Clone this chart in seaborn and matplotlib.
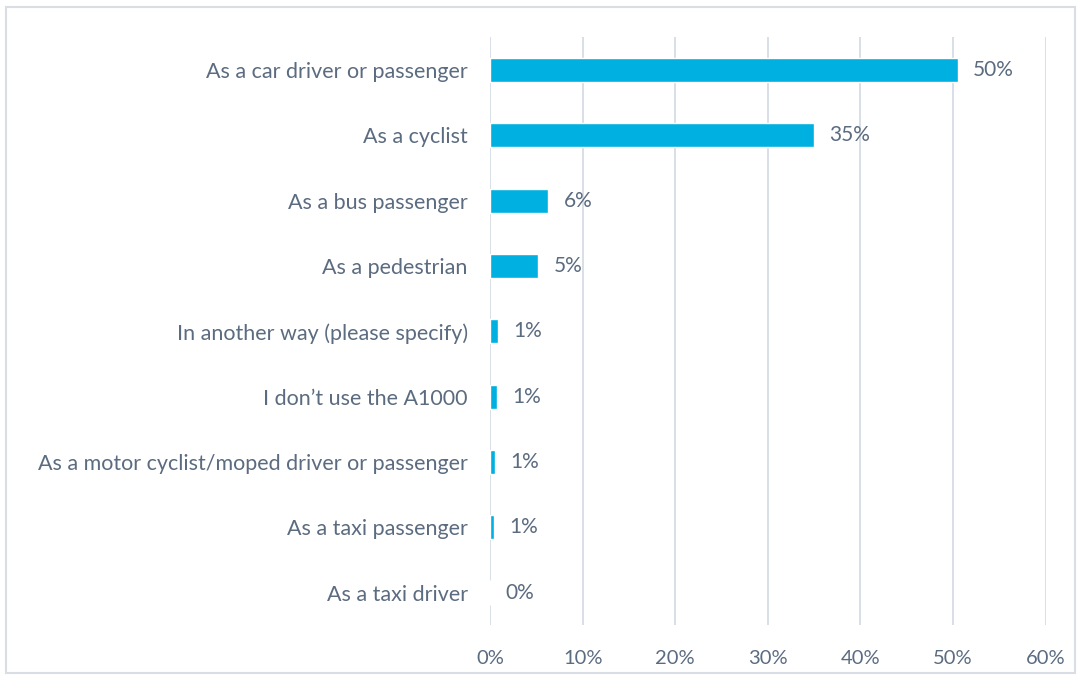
import matplotlib
matplotlib.use("Agg")
import matplotlib.pyplot as plt
import matplotlib.patches as mpatches
from matplotlib.ticker import PercentFormatter
import pandas as pd
import seaborn as sns

# Survey answers and the share of respondents for each
categories = [
    "As a car driver or passenger",
    "As a cyclist",
    "As a bus passenger",
    "As a pedestrian",
    "In another way (please specify)",
    "I don\u2019t use the A1000",
    "As a motor cyclist/moped driver or passenger",
    "As a taxi passenger",
    "As a taxi driver",
]
shares = [0.505, 0.350, 0.063, 0.052, 0.009, 0.0075, 0.0055, 0.0045, 0.0]
labels = ["50%", "35%", "6%", "5%", "1%", "1%", "1%", "1%", "0%"]
x_ticks = [0, 0.1, 0.2, 0.3, 0.4, 0.5, 0.6]

df = pd.DataFrame({"category": categories, "share": shares})

sns.set_style("white")
plt.rcParams["font.family"] = ["Lato", "DejaVu Sans"]

text_color = "#5B6B80"
bar_color = "#00B0E0"
grid_color = "#D6DCE4"

fig = plt.figure(figsize=(10.83, 6.81), dpi=100)
ax = fig.add_axes([0.4525, 0.082, 0.513, 0.863])

sns.barplot(data=df, y="category", x="share", color=bar_color,
            width=0.37, saturation=1, ax=ax)

ax.set_xlim(0, 0.6)
ax.set_xticks(x_ticks)
ax.xaxis.set_major_formatter(PercentFormatter(1.0, decimals=0))
ax.grid(axis="x", color=grid_color, linewidth=1.3)
ax.set_axisbelow(True)
for s in ax.spines.values():
    s.set_visible(False)
ax.set_xlabel("")
ax.set_ylabel("")
ax.tick_params(axis="both", length=0, colors=text_color)
ax.tick_params(axis="x", pad=18, labelsize=14.5)
ax.tick_params(axis="y", pad=16, labelsize=15.5)

# value labels to the right of each bar
for i, (v, lab) in enumerate(zip(shares, labels)):
    ax.annotate(lab, xy=(v, i), xytext=(11, 0), textcoords="offset points",
                va="center", ha="left", fontsize=15, color=text_color)

# light frame round the whole chart
fig.patches.append(mpatches.Rectangle((0.006, 0.012), 0.987, 0.977,
                                      transform=fig.transFigure, fill=False,
                                      edgecolor="#D9DEE4", linewidth=1.5))

fig.savefig("out.png", dpi=100)
